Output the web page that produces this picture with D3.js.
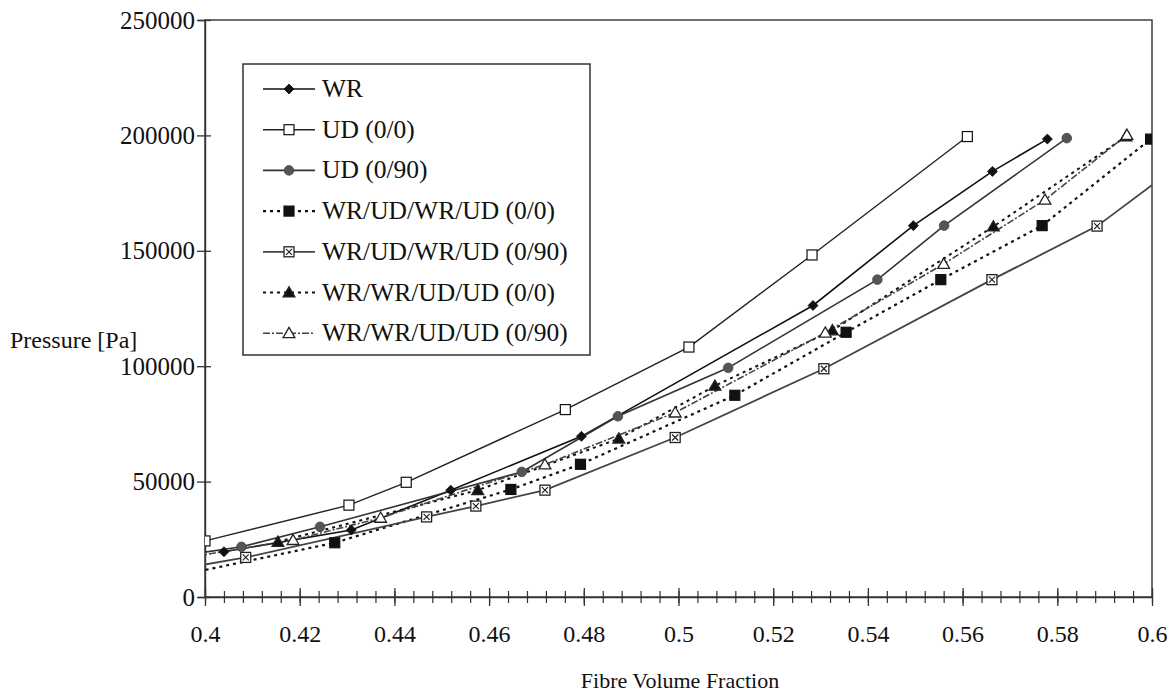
<!DOCTYPE html>
<html>
<head>
<meta charset="utf-8">
<script src="https://cdn.jsdelivr.net/npm/d3@7"></script>
<style>
	body { margin: 0; background: #fff; }
	text { font-family: "Liberation Serif", "Times New Roman", serif; fill: #111; }
</style>
</head>
<body>
<div id="chart"></div>
<script>
// series names, in legend order
const seriesNames = ["WR", "UD (0/0)", "UD (0/90)", "WR/UD/WR/UD (0/0)",
	"WR/UD/WR/UD (0/90)", "WR/WR/UD/UD (0/0)", "WR/WR/UD/UD (0/90)"];

// [fibre volume fraction, pressure in Pa]
const wr = [[0.404, 19600], [0.4309, 29000], [0.4519, 46300], [0.4795, 69600],
	[0.5284, 126300], [0.5496, 160900], [0.5663, 184400], [0.5779, 198400]];
const ud00 = [[0.400, 24300], [0.4304, 39800], [0.4425, 49700], [0.4761, 81200],
	[0.5022, 108300], [0.5282, 148200], [0.561, 199500]];
const ud090 = [[0.39, 16500], [0.4077, 21750], [0.4243, 30400], [0.4669, 54200], [0.4872, 78300],
	[0.5105, 99300], [0.542, 137500], [0.5561, 160900], [0.582, 198800]];
const wrudwrud00 = [[0.39, 7400], [0.4274, 23500], [0.4646, 46600], [0.4793, 57500],
	[0.5119, 87400], [0.5354, 114700], [0.5554, 137500], [0.5768, 160900], [0.5997, 198400]];
const wrudwrud090 = [[0.39, 10500], [0.4086, 17150], [0.4468, 34700], [0.4572, 39400],
	[0.4718, 46300], [0.4993, 69100], [0.5307, 98900], [0.5662, 137500], [0.5884, 160700], [0.614, 200000]];
const wrwrudud00 = [[0.4154, 23900], [0.4576, 46300], [0.4874, 68600], [0.5077, 91500],
	[0.5325, 115500], [0.5665, 160500], [0.5945, 199500]];
const wrwrudud090 = [[0.39, 15000], [0.4186, 24650], [0.4371, 34300], [0.4718, 57400], [0.4993, 79900],
	[0.531, 114500], [0.556, 144300], [0.5774, 172100], [0.5947, 200200]];

const allSeries = [wr, ud00, ud090, wrudwrud00, wrudwrud090, wrwrudud00, wrwrudud090];

const yTicks = [0, 50000, 100000, 150000, 200000, 250000];
const xLabelTicks = [0.4, 0.42, 0.44, 0.46, 0.48, 0.5, 0.52, 0.54, 0.56, 0.58, 0.6];

// look of each series
const styles = [
	{ marker: "diamond", stroke: "#111", width: 1.6, dash: null, mfill: "#111" },
	{ marker: "square", stroke: "#222", width: 1.4, dash: null, mfill: "#fff" },
	{ marker: "circle", stroke: "#333", width: 1.6, dash: null, mfill: "#555" },
	{ marker: "square", stroke: "#111", width: 2.2, dash: "3,4", mfill: "#111" },
	{ marker: "xsquare", stroke: "#444", width: 1.8, dash: null, mfill: "#fff" },
	{ marker: "triangle", stroke: "#111", width: 2, dash: "3,4", mfill: "#111" },
	{ marker: "triangle", stroke: "#444", width: 1.6, dash: "7,2,2,2", mfill: "#fff" }
];

const W = 1176, H = 699;
const m = { left: 205, right: 1152, top: 20, bottom: 597 };

const svg = d3.select("#chart").append("svg")
	.attr("width", W).attr("height", H);

const x = d3.scaleLinear().domain([0.4, 0.6]).range([m.left, m.right]);
const y = d3.scaleLinear().domain([0, 250000]).range([m.bottom, m.top]);

svg.append("clipPath").attr("id", "plotclip")
	.append("rect")
	.attr("x", m.left).attr("y", m.top)
	.attr("width", m.right - m.left).attr("height", m.bottom - m.top);

// frame
svg.append("rect")
	.attr("x", m.left).attr("y", m.top)
	.attr("width", m.right - m.left).attr("height", m.bottom - m.top)
	.attr("fill", "none").attr("stroke", "#333").attr("stroke-width", 1.4);

// y axis
const yAxis = svg.append("g")
	.attr("transform", `translate(${m.left},0)`)
	.call(d3.axisLeft(y).tickValues(yTicks).tickSize(7).tickPadding(12).tickFormat(d3.format("d")));
yAxis.select(".domain").attr("stroke", "#333").attr("stroke-width", 1.4);
yAxis.selectAll(".tick line").attr("x1", -8).attr("x2", 6).attr("stroke", "#333").attr("stroke-width", 1.3);
yAxis.selectAll(".tick text").attr("font-size", 25).attr("x", -10)
	.style("font-family", "'Liberation Serif', serif").attr("fill", "#111");

// x axis, minor ticks
const xMinor = svg.append("g")
	.attr("transform", `translate(0,${m.bottom})`)
	.call(d3.axisBottom(x).tickValues(d3.range(0, 51).map(i => 0.4 + i * 0.004)).tickSize(0).tickFormat(""));
xMinor.select(".domain").attr("stroke", "#333").attr("stroke-width", 1.4);
xMinor.selectAll(".tick line").attr("y1", -6).attr("y2", 6).attr("stroke", "#333").attr("stroke-width", 1.2);

// x axis, labelled ticks
const xMajor = svg.append("g")
	.attr("transform", `translate(0,${m.bottom})`)
	.call(d3.axisBottom(x).tickValues(xLabelTicks).tickSize(0).tickPadding(28).tickFormat(d => String(+d.toFixed(2))));
xMajor.select(".domain").remove();
xMajor.selectAll(".tick line").attr("y1", -9).attr("y2", 9).attr("stroke", "#333").attr("stroke-width", 1.3);
xMajor.selectAll(".tick text").attr("font-size", 24)
	.style("font-family", "'Liberation Serif', serif").attr("fill", "#111");

// axis titles
svg.append("text").attr("x", 10).attr("y", 348).attr("font-size", 24).text("Pressure [Pa]");
svg.append("text").attr("x", 680).attr("y", 688).attr("font-size", 22)
	.attr("text-anchor", "middle").text("Fibre Volume Fraction");

function drawMarker(g, type, cx, cy, fill, stroke) {
	if (type === "diamond") {
		g.append("path").attr("d", `M${cx},${cy - 5}L${cx + 5},${cy}L${cx},${cy + 5}L${cx - 5},${cy}Z`)
			.attr("fill", fill).attr("stroke", stroke).attr("stroke-width", 0.8);
	} else if (type === "circle") {
		g.append("circle").attr("cx", cx).attr("cy", cy).attr("r", 4.8)
			.attr("fill", fill).attr("stroke", "#444").attr("stroke-width", 0.8);
	} else if (type === "square") {
		g.append("rect").attr("x", cx - 5).attr("y", cy - 5).attr("width", 10).attr("height", 10)
			.attr("fill", fill).attr("stroke", stroke).attr("stroke-width", 1.2);
	} else if (type === "xsquare") {
		g.append("rect").attr("x", cx - 5).attr("y", cy - 5).attr("width", 10).attr("height", 10)
			.attr("fill", fill).attr("stroke", "#222").attr("stroke-width", 1.3);
		g.append("path").attr("d", `M${cx - 3},${cy - 3}L${cx + 3},${cy + 3}M${cx - 3},${cy + 3}L${cx + 3},${cy - 3}`)
			.attr("stroke", "#222").attr("stroke-width", 1.2);
	} else if (type === "triangle") {
		g.append("path").attr("d", d3.symbol(d3.symbolTriangle, 60)())
			.attr("transform", `translate(${cx},${cy + 1})`).attr("fill", fill).attr("stroke", "#222").attr("stroke-width", 1.3);
	}
}

const line = d3.line().x(d => x(d[0])).y(d => y(d[1]));

const plot = svg.append("g").attr("clip-path", "url(#plotclip)");
allSeries.forEach((data, i) => {
	const s = styles[i];
	plot.append("path").datum(data)
		.attr("d", line)
		.attr("fill", "none")
		.attr("stroke", s.stroke)
		.attr("stroke-width", s.width)
		.attr("stroke-dasharray", s.dash);
});
allSeries.forEach((data, i) => {
	const s = styles[i];
	const g = plot.append("g");
	data.filter(d => d[0] >= 0.399 && d[0] <= 0.601)
		.forEach(d => drawMarker(g, s.marker, x(d[0]), y(d[1]), s.mfill, "#111"));
});

// legend
const legend = svg.append("g");
legend.append("rect")
	.attr("x", 243).attr("y", 64).attr("width", 347).attr("height", 291)
	.attr("fill", "#fff").attr("stroke", "#333").attr("stroke-width", 1.5);
seriesNames.forEach((name, i) => {
	const s = styles[i];
	const ly = 89 + i * 40.7;
	legend.append("line")
		.attr("x1", 263).attr("x2", 315).attr("y1", ly).attr("y2", ly)
		.attr("stroke", s.stroke).attr("stroke-width", s.width)
		.attr("stroke-dasharray", s.dash);
	drawMarker(legend, s.marker, 289, ly, s.mfill, "#111");
	legend.append("text")
		.attr("x", 322).attr("y", ly + 8)
		.attr("font-size", 25.5)
		.text(name);
});
</script>
</body>
</html>
